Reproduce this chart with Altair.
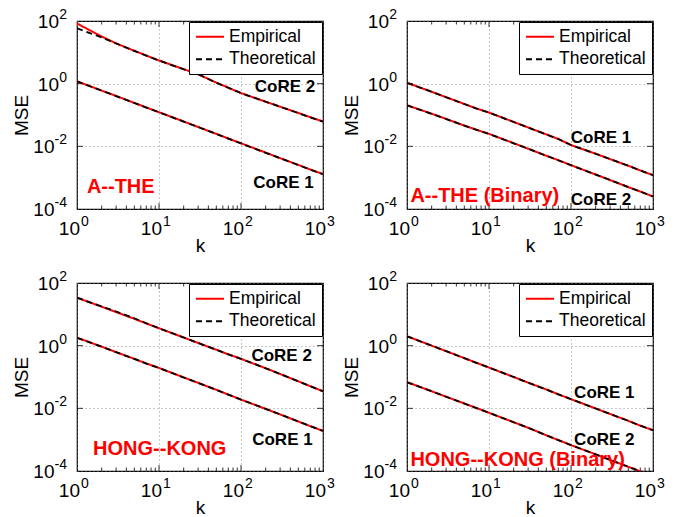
import altair as alt
import pandas as pd

FONT = "Liberation Sans"

# sample positions along k
K = [1, 2, 3, 5, 7, 10, 20, 30, 50, 70, 100, 200, 300, 500, 700, 1000]

# ---- A--THE ----
ATHE_C1_EMP = [1.19, 0.60, 0.405, 0.243, 0.174, 0.123, 0.062, 0.0415, 0.025, 0.0178, 0.0125, 0.0063, 0.0042, 0.00255, 0.00182, 0.0013]
ATHE_C1_THEO = [1.18, 0.60, 0.403, 0.242, 0.173, 0.122, 0.0615, 0.0412, 0.0248, 0.0177, 0.0124, 0.0062, 0.00418, 0.00253, 0.00181, 0.00129]
ATHE_C2_EMP = [83, 32, 19.3, 11.2, 7.9, 5.5, 2.9, 2.0, 1.08, 0.745, 0.50, 0.266, 0.184, 0.116, 0.085, 0.062]
ATHE_C2_THEO = [58, 30, 19.2, 11.1, 7.85, 5.45, 2.88, 1.99, 1.07, 0.74, 0.50, 0.265, 0.183, 0.115, 0.084, 0.061]

# ---- A--THE (Binary) ----
ATHEB_C1_EMP = [1.07, 0.55, 0.37, 0.225, 0.162, 0.12, 0.06, 0.04, 0.024, 0.0172, 0.011, 0.0058, 0.0039, 0.0024, 0.0017, 0.0012]
ATHEB_C1_THEO = [1.06, 0.55, 0.368, 0.224, 0.161, 0.119, 0.0598, 0.0399, 0.0239, 0.0171, 0.011, 0.0058, 0.0039, 0.0024, 0.0017, 0.0012]
ATHEB_C2_EMP = [0.205, 0.11, 0.075, 0.046, 0.034, 0.025, 0.0126, 0.0084, 0.005, 0.0036, 0.0025, 0.00126, 0.00084, 0.0005, 0.00036, 0.00025]
ATHEB_C2_THEO = [0.204, 0.109, 0.0745, 0.0458, 0.0338, 0.0249, 0.0125, 0.0084, 0.005, 0.0036, 0.0025, 0.00125, 0.00084, 0.0005, 0.00036, 0.00025]

# ---- HONG--KONG ----
HK_C1_EMP = [1.8, 0.93, 0.62, 0.38, 0.27, 0.195, 0.097, 0.065, 0.039, 0.0275, 0.019, 0.0096, 0.0064, 0.0038, 0.0027, 0.0019]
HK_C1_THEO = [1.79, 0.92, 0.62, 0.378, 0.269, 0.194, 0.0965, 0.0648, 0.0389, 0.0274, 0.019, 0.0096, 0.0064, 0.0038, 0.0027, 0.0019]
HK_C2_EMP = [34, 17.5, 11.8, 7.2, 5.1, 3.6, 1.82, 1.22, 0.74, 0.53, 0.38, 0.19, 0.125, 0.073, 0.051, 0.035]
HK_C2_THEO = [34, 17.8, 12.3, 7.5, 5.2, 3.6, 1.82, 1.22, 0.74, 0.53, 0.38, 0.19, 0.125, 0.073, 0.051, 0.035]

# ---- HONG--KONG (Binary) ----
HKB_C1_EMP = [2.0, 1.0, 0.67, 0.4, 0.285, 0.2, 0.1, 0.066, 0.04, 0.028, 0.0196, 0.0099, 0.0066, 0.004, 0.0028, 0.002]
HKB_C1_THEO = [1.99, 1.0, 0.668, 0.399, 0.284, 0.2, 0.0998, 0.0659, 0.0399, 0.028, 0.0196, 0.0099, 0.0066, 0.004, 0.0028, 0.002]
HKB_C2_EMP = [0.069, 0.035, 0.0235, 0.0143, 0.0103, 0.0072, 0.0036, 0.0024, 0.00138, 0.00097, 0.00067, 0.00034, 0.000225, 0.000136, 0.0000975, 0.000068]
HKB_C2_THEO = [0.068, 0.035, 0.0234, 0.0142, 0.0102, 0.0072, 0.0036, 0.0024, 0.00138, 0.00097, 0.00067, 0.00034, 0.000225, 0.000136, 0.0000975, 0.000068]

PANEL_NAMES = ["A--THE", "A--THE (Binary)", "HONG--KONG", "HONG--KONG (Binary)"]
CURVES = {
    "A--THE": {("CoRE 1", "Empirical"): ATHE_C1_EMP, ("CoRE 1", "Theoretical"): ATHE_C1_THEO,
               ("CoRE 2", "Empirical"): ATHE_C2_EMP, ("CoRE 2", "Theoretical"): ATHE_C2_THEO},
    "A--THE (Binary)": {("CoRE 1", "Empirical"): ATHEB_C1_EMP, ("CoRE 1", "Theoretical"): ATHEB_C1_THEO,
                        ("CoRE 2", "Empirical"): ATHEB_C2_EMP, ("CoRE 2", "Theoretical"): ATHEB_C2_THEO},
    "HONG--KONG": {("CoRE 1", "Empirical"): HK_C1_EMP, ("CoRE 1", "Theoretical"): HK_C1_THEO,
                   ("CoRE 2", "Empirical"): HK_C2_EMP, ("CoRE 2", "Theoretical"): HK_C2_THEO},
    "HONG--KONG (Binary)": {("CoRE 1", "Empirical"): HKB_C1_EMP, ("CoRE 1", "Theoretical"): HKB_C1_THEO,
                            ("CoRE 2", "Empirical"): HKB_C2_EMP, ("CoRE 2", "Theoretical"): HKB_C2_THEO},
}

# curve annotations (label, k, mse) per panel
CURVE_LABELS = {
    "A--THE": [("CoRE 2", 344, 0.78), ("CoRE 1", 330, 7.0e-4)],
    "A--THE (Binary)": [("CoRE 1", 232, 0.018), ("CoRE 2", 232, 1.95e-4)],
    "HONG--KONG": [("CoRE 2", 313, 0.48), ("CoRE 1", 320, 1.0e-3)],
    "HONG--KONG (Binary)": [("CoRE 1", 255, 0.030), ("CoRE 2", 255, 9.8e-4)],
}
# panel names drawn in red (left edge k, mse)
PANEL_LABEL_POS = {
    "A--THE": (1.32, 4.9e-4),
    "A--THE (Binary)": (1.1, 2.65e-4),
    "HONG--KONG": (1.57, 5.2e-4),
    "HONG--KONG (Binary)": (1.1, 2.2e-4),
}

SERIES = ["Empirical", "Theoretical"]
X_TICKS = [1, 10, 100, 1000]
X_EXP = ["0", "1", "2", "3"]
Y_TICKS = [1e-4, 1e-2, 1, 100]
Y_EXP = ["-4", "-2", "0", "2"]
X_MINOR = [2, 3, 4, 5, 6, 7, 8, 9, 20, 30, 40, 50, 60, 70, 80, 90, 200, 300, 400, 500, 600, 700, 800, 900]
X_MAJOR_INNER = [10, 100]
Y_MAJOR_INNER = [1e-2, 1]

W, H = 246, 188

rows = []
for p in PANEL_NAMES:
    for (curve, series), vals in CURVES[p].items():
        for k, v in zip(K, vals):
            rows.append({"panel": p, "curve": curve, "series": series, "k": k, "mse": v})
df = pd.DataFrame(rows)

xticks_df = pd.DataFrame({"k": X_TICKS, "exp": X_EXP})
yticks_df = pd.DataFrame({"mse": Y_TICKS, "exp": Y_EXP})

xscale = alt.Scale(type="log", domain=[1, 1000])
yscale = alt.Scale(type="log", domain=[1e-4, 100])

xaxis = alt.Axis(values=X_TICKS, labels=False, ticks=False, domain=False, grid=True,
                 gridDash=[1, 3], gridColor="#777777", gridWidth=0.8,
                 titleFontSize=19, titleFontWeight="normal", titleColor="black",
                 titleY=36.5, titleBaseline="middle")
yaxis = alt.Axis(values=Y_TICKS, labels=False, ticks=False, domain=False, grid=True,
                 gridDash=[1, 3], gridColor="#777777", gridWidth=0.8,
                 titleFontSize=19, titleFontWeight="normal", titleColor="black",
                 titleX=-56, titleY=H / 2, titleBaseline="middle", titleAlign="center")


def legend():
    return alt.Legend(title=None, orient="top-right", offset=1, strokeColor="black",
                      fillColor="white", padding=6, labelFontSize=17.5, labelColor="black",
                      labelFont=FONT, symbolType="stroke", symbolSize=784, clipHeight=17.5,
                      symbolStrokeWidth=2, labelOffset=4, rowPadding=3.5)


def tick_labels():
    layers = []
    # x axis: "10" plus raised exponent
    layers.append(alt.Chart(xticks_df).mark_text(
        font=FONT, fontSize=19, color="black", align="right", baseline="middle", dx=3).encode(
        x=alt.X("k:Q", scale=xscale), y=alt.value(H + 19.5), text=alt.value("10")))
    layers.append(alt.Chart(xticks_df).mark_text(
        font=FONT, fontSize=14, color="black", align="left", baseline="middle", dx=4).encode(
        x=alt.X("k:Q", scale=xscale), y=alt.value(H + 13), text="exp:N"))
    # y axis
    ypos = yticks_df[yticks_df.mse >= 1]
    yneg = yticks_df[yticks_df.mse < 1]
    for dd, off in ((ypos, 18), (yneg, 22.5)):
        layers.append(alt.Chart(dd).mark_text(
            font=FONT, fontSize=19, color="black", align="right", baseline="middle", dy=1).encode(
            y=alt.Y("mse:Q", scale=yscale), x=alt.value(-off), text=alt.value("10")))
    layers.append(alt.Chart(yticks_df).mark_text(
        font=FONT, fontSize=14, color="black", align="right", baseline="middle", dy=-6).encode(
        y=alt.Y("mse:Q", scale=yscale), x=alt.value(-10), text="exp:N"))
    return layers


def panel(name):
    d = df[df.panel == name]
    base = alt.Chart(d)
    enc = dict(
        x=alt.X("k:Q", scale=xscale, axis=xaxis, title="k"),
        y=alt.Y("mse:Q", scale=yscale, axis=yaxis, title="MSE"),
        color=alt.Color("series:N", scale=alt.Scale(domain=SERIES, range=["#ff0000", "#000000"]),
                        legend=legend()),
        strokeDash=alt.StrokeDash("series:N", scale=alt.Scale(domain=SERIES, range=[[1, 0], [6, 4]]),
                                  legend=legend()),
        detail="curve:N",
    )
    emp = base.transform_filter(alt.datum.series == "Empirical").mark_line(
        strokeWidth=2, clip=True).encode(**enc)
    theo = base.transform_filter(alt.datum.series == "Theoretical").mark_line(
        strokeWidth=1.8, clip=True).encode(**enc)

    lab = pd.DataFrame([{"text": t, "k": k, "mse": m} for t, k, m in CURVE_LABELS[name]])
    curve_text = alt.Chart(lab).mark_text(font=FONT, fontSize=17, fontWeight="bold",
                                          color="black", align="center", baseline="middle").encode(
        x=alt.X("k:Q", scale=xscale), y=alt.Y("mse:Q", scale=yscale), text="text:N")
    pk, pm = PANEL_LABEL_POS[name]
    ptab = pd.DataFrame([{"text": name, "k": pk, "mse": pm}])
    panel_text = alt.Chart(ptab).mark_text(font=FONT, fontSize=20, fontWeight="bold",
                                           color="#ff0000", align="left", baseline="middle").encode(
        x=alt.X("k:Q", scale=xscale), y=alt.Y("mse:Q", scale=yscale), text="text:N")

    minor = pd.DataFrame({"k": X_MINOR})
    major = pd.DataFrame({"k": X_MAJOR_INNER})
    ymaj = pd.DataFrame({"mse": Y_MAJOR_INNER})
    tk = []
    for dd, ln in ((minor, 3.5), (major, 6)):
        tk.append(alt.Chart(dd).mark_rule(color="black", strokeWidth=0.8).encode(
            x=alt.X("k:Q", scale=xscale), y=alt.value(H), y2=alt.value(H - ln)))
        tk.append(alt.Chart(dd).mark_rule(color="black", strokeWidth=0.8).encode(
            x=alt.X("k:Q", scale=xscale), y=alt.value(0), y2=alt.value(ln)))
    tk.append(alt.Chart(ymaj).mark_rule(color="black", strokeWidth=0.8).encode(
        y=alt.Y("mse:Q", scale=yscale), x=alt.value(0), x2=alt.value(6)))
    tk.append(alt.Chart(ymaj).mark_rule(color="black", strokeWidth=0.8).encode(
        y=alt.Y("mse:Q", scale=yscale), x=alt.value(W), x2=alt.value(W - 6)))

    return alt.layer(*tk, emp, theo, curve_text, panel_text, *tick_labels()).properties(width=W, height=H)


charts = [panel(n) for n in PANEL_NAMES]
chart = alt.concat(*charts, columns=2, spacing={"row": 74, "column": 84}, bounds="flush",
                   padding={"left": 11, "top": 7, "right": 5, "bottom": 5}).resolve_scale(
    color="independent", strokeDash="independent", x="independent", y="independent"
).configure(font=FONT).configure_view(stroke="black", strokeWidth=1.2)

chart.save("out.html", embed_options={"renderer": "svg", "actions": False})
